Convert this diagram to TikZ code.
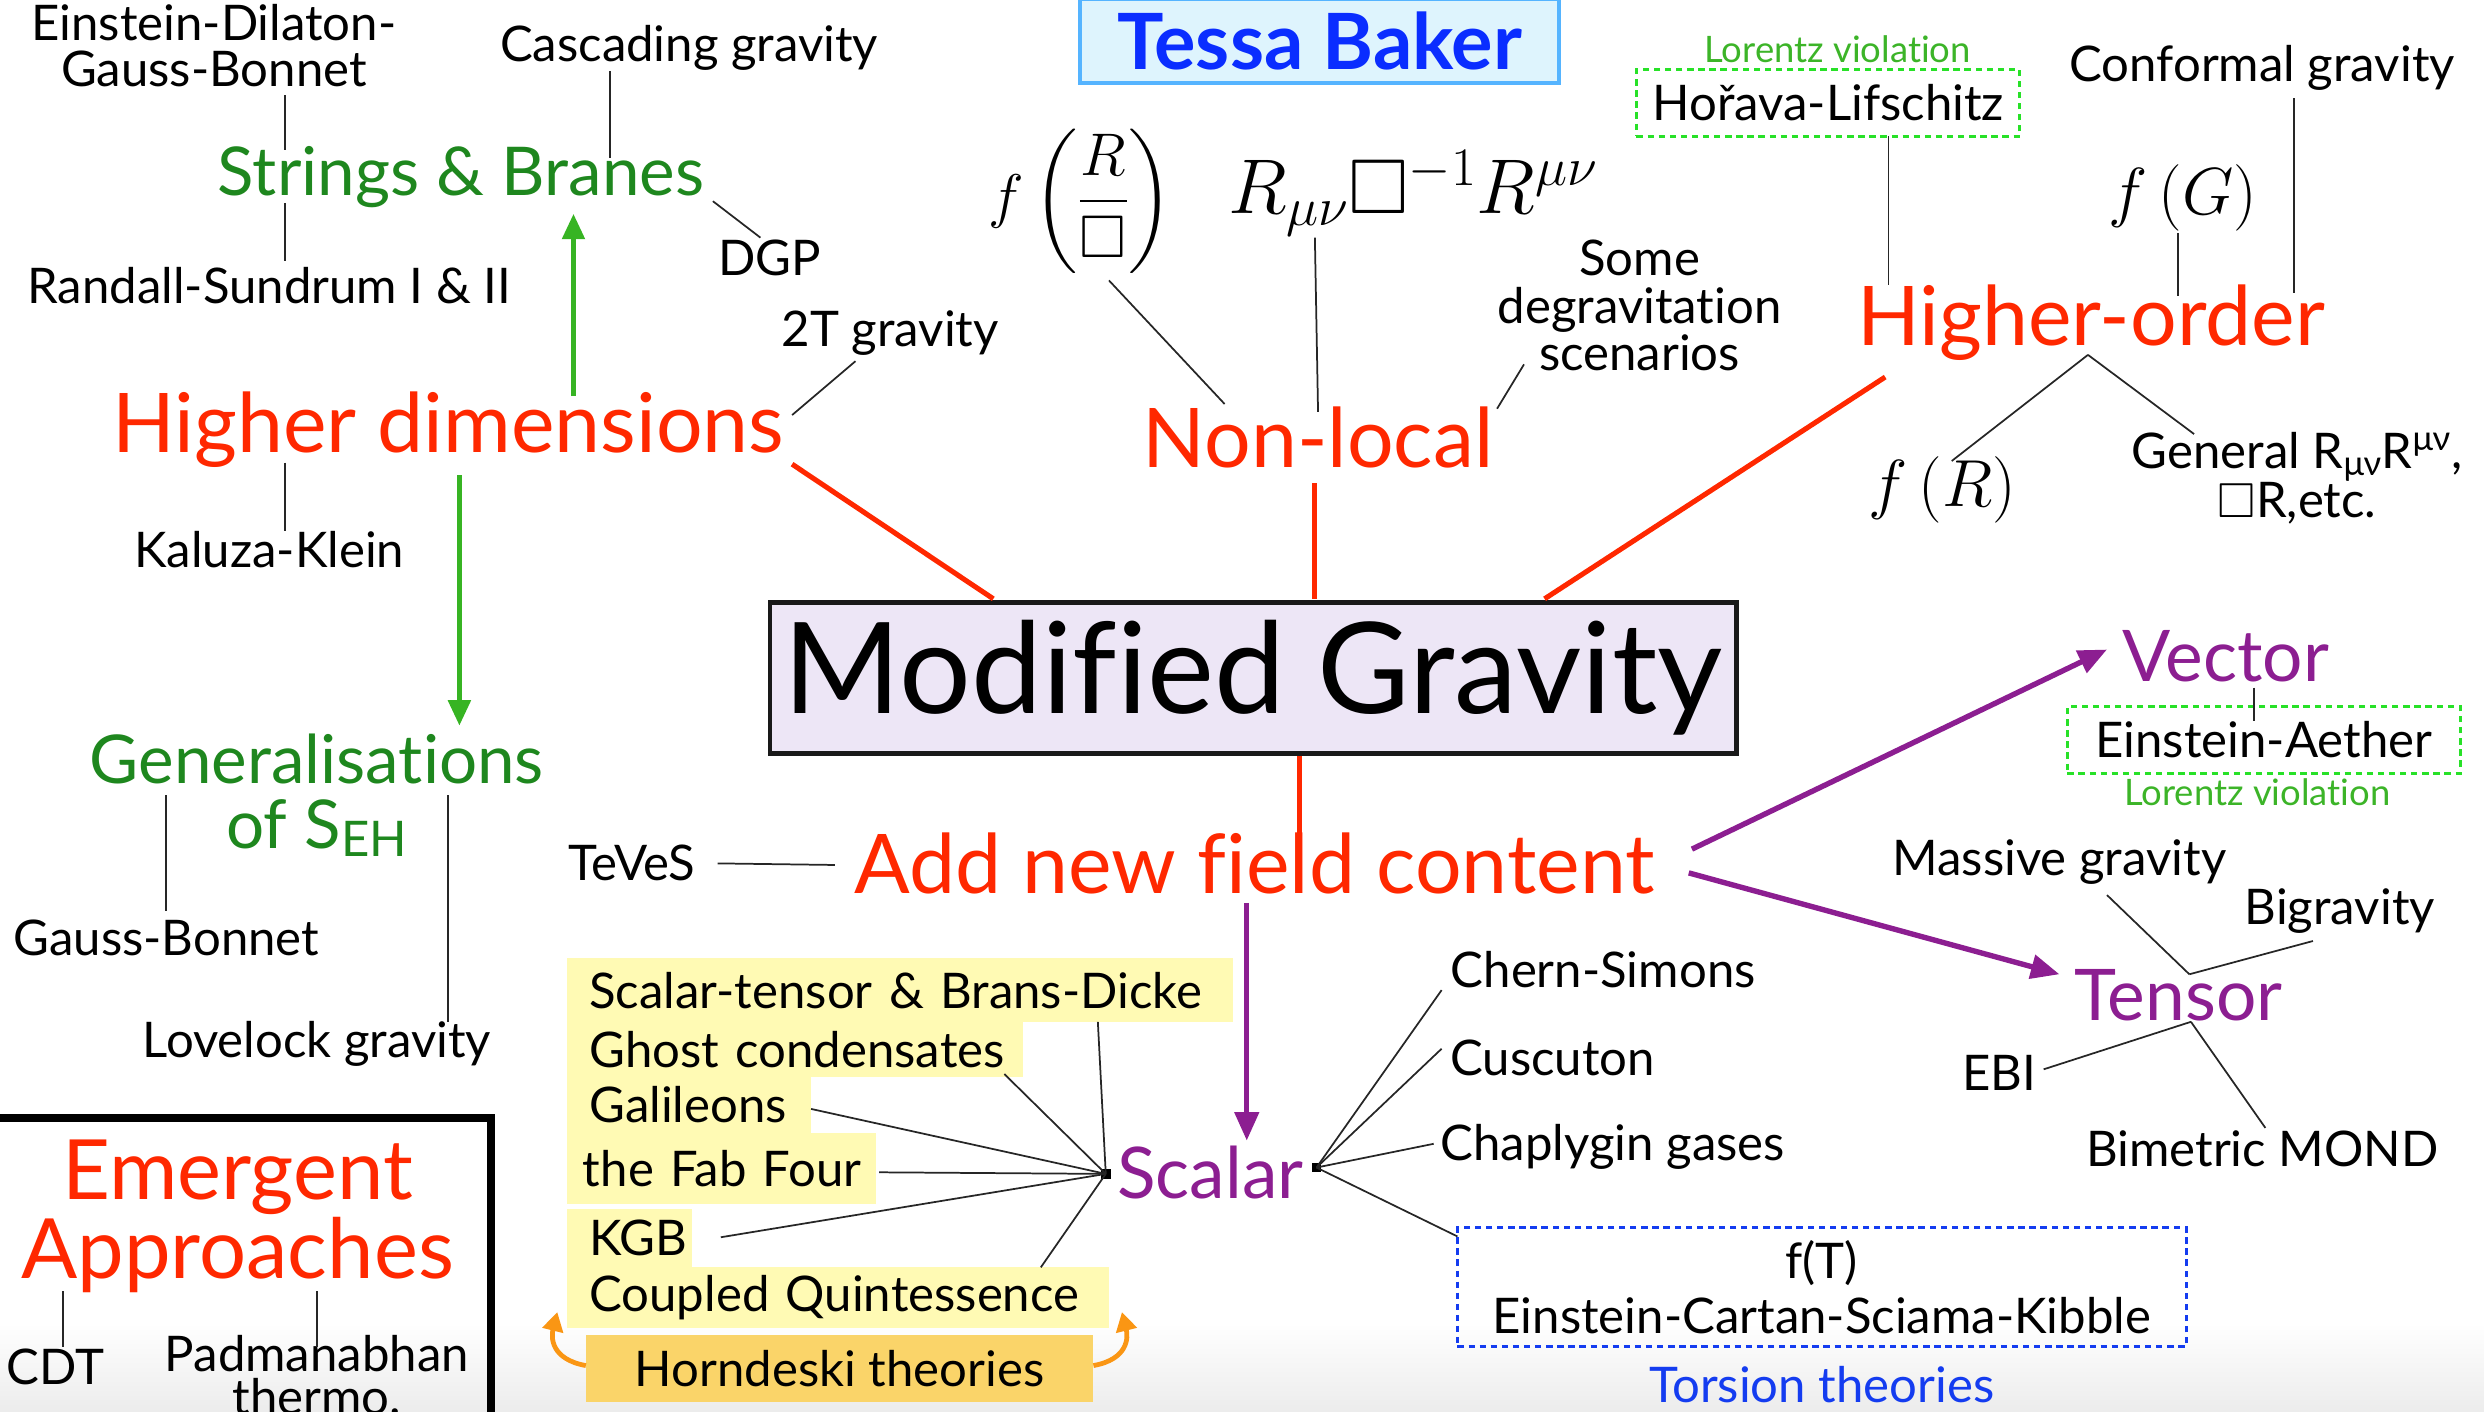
\RequirePackage{fix-cm}
\documentclass[tikz,border=0pt]{standalone}
\usepackage{amssymb}
\usepackage{fontspec}
\setmainfont{Lato}[Ligatures=NoCommon]
\usetikzlibrary{arrows.meta,calc}
\definecolor{mgred}{RGB}{255,40,0}
\definecolor{dgreen}{RGB}{30,135,30}
\definecolor{agreen}{RGB}{55,180,35}
\definecolor{lgreen}{RGB}{40,225,40}
\definecolor{lvgreen}{RGB}{60,180,40}
\definecolor{purp}{RGB}{140,30,145}
\definecolor{tblue}{RGB}{20,60,240}
\definecolor{nblue}{RGB}{10,45,255}
\definecolor{tfill}{RGB}{222,244,253}
\definecolor{tborder}{RGB}{85,180,255}
\definecolor{lav}{RGB}{237,230,246}
\definecolor{yel}{RGB}{255,250,180}
\definecolor{horn}{RGB}{250,212,105}
\definecolor{orarr}{RGB}{250,150,20}
\definecolor{bgray}{RGB}{236,236,236}
\begin{document}
\begin{tikzpicture}[x=1pt,y=-1pt,
  lbl/.style={font=\fontsize{31}{29}\selectfont, align=center, inner sep=0pt},
  redt/.style={font=\fontsize{52}{52}\selectfont, text=mgred, align=center, inner sep=0pt},
  grnt/.style={font=\fontsize{42.5}{41}\selectfont, text=dgreen, align=center, inner sep=0pt},
  purt/.style={font=\fontsize{45}{45}\selectfont, text=purp, inner sep=0pt},
  mth/.style={font=\fontsize{42}{46}\selectfont, inner sep=0pt},
  lvt/.style={font=\fontsize{23}{23}\selectfont, text=lvgreen, inner sep=0pt},
  ybox/.style={fill=yel, font=\fontsize{31}{31}\selectfont, inner xsep=14pt, inner ysep=0pt, align=left, anchor=center},
  dotbox/.style={draw=lgreen, line width=2pt, dash pattern=on 4pt off 3pt, font=\fontsize{31}{31}\selectfont, inner sep=0pt},
  conn/.style={draw=black!85, line width=1.1pt},
  redc/.style={draw=mgred, line width=3.2pt},
  garr/.style={draw=agreen, line width=3pt, -{Triangle[length=16pt,width=14pt]}},
  parr/.style={draw=purp, line width=3.4pt, -{Triangle[length=18pt,width=15pt]}},
  oarr/.style={draw=orarr, line width=3pt, -{Triangle[length=12pt,width=13pt]}},
  sq/.style={fill=black, minimum size=6pt, inner sep=0pt}]
\useasboundingbox (0,0) rectangle (1568,891);
\shade[top color=white, bottom color=bgray] (0,835) rectangle (1568,891);

% title
\node[draw=tborder, fill=tfill, line width=2.5pt, minimum width=302pt, minimum height=53pt,
  font=\fontsize{49}{49}\selectfont\bfseries, text=nblue] (title) at (833,26) {Tessa Baker};

% left top
\node[lbl] (edgb) at (135,29) {Einstein-Dilaton-\\Gauss-Bonnet};
\node[lbl] (cas) at (435,30) {Cascading gravity};
\node[grnt] (sb) at (291,112) {Strings \& Branes};
\node[lbl] (rs) at (170,180) {Randall-Sundrum I \& II};
\node[lbl] (dgp) at (486,163) {DGP};
\node[lbl] (twoT) at (562,210) {2T gravity};
\node[redt] (hd) at (283,271) {Higher dimensions};
\node[lbl] (kk) at (170,347) {Kaluza-Klein};
\node[grnt] (gen) at (200,502) {Generalisations\\of S{\fontsize{31}{31}\selectfont\raisebox{-5pt}{EH}}};
\node[lbl] (gb) at (105,592) {Gauss-Bonnet};
\node[lbl] (lov) at (200,659) {Lovelock gravity};

% emergent
\draw[line width=5pt] (-10,706) -- (310,706) -- (310,900);
\node[redt, font=\fontsize{52.5}{50}\selectfont] (em) at (150,768) {Emergent\\Approaches};
\node[lbl] (cdt) at (35,863) {CDT};
\node[lbl, font=\fontsize{31}{27}\selectfont] (pad) at (200,868) {Padmanabhan\\thermo.};

% non-local
\node[mth, font=\fontsize{38}{42}\selectfont] (fr) at (682,127) {$\displaystyle f\left(\frac{R}{\Box}\right)$};
\node[mth, font=\fontsize{49}{52}\selectfont] (nlR) at (892,122) {$R_{\mu\nu}\Box^{-1}R^{\mu\nu}$};
\node[lbl, font=\fontsize{31}{30}\selectfont] (deg) at (1035,193) {Some\\degravitation\\scenarios};
\node[redt] (nl) at (832,276) {Non-local};

% higher order
\node[lvt] (lv1) at (1160,31) {Lorentz violation};
\node[dotbox, minimum width=242pt, minimum height=42pt] (hl) at (1154,65) {Hořava-Lifschitz};
\node[lbl] (conf) at (1428,43) {Conformal gravity};
\node[mth] (fG) at (1378,125) {$f\left(G\right)$};
\node[redt] (ho) at (1320,204) {Higher-order};
\node[mth] (fR) at (1226,309) {$f\left(R\right)$};
\node[lbl, font=\fontsize{31}{31}\selectfont] (gen2) at (1450,302) {General R\textsubscript{μν}R\textsuperscript{μν},\\$\square$R,etc.};

% center
\node[draw=black!90, fill=lav, line width=3pt, minimum width=610pt, minimum height=95pt,
  font=\fontsize{80}{80}\selectfont] (mg) at (791,428) {Modified Gravity};
\node[redt] (anfc) at (792,545) {Add new field content};
\node[lbl] (teves) at (399,545) {TeVeS};

% vector / tensor
\node[purt] (vec) at (1405,414) {Vector};
\node[dotbox, minimum width=248pt, minimum height=42pt] (ea) at (1429,467) {Einstein-Aether};
\node[lvt] (lv2) at (1425,500) {Lorentz violation};
\node[purt] (ten) at (1375,628) {Tensor};
\node[lbl] (mas) at (1300,544) {Massive gravity};
\node[lbl] (big) at (1477,575) {Bigravity};
\node[lbl] (ebi) at (1262,677) {EBI};
\node[lbl] (bim) at (1428,725) {Bimetric MOND};

% scalar
\node[purt] (sca) at (764,740) {Scalar};
\node[sq] (sqL) at (698,741) {};
\node[sq] (sqR) at (831,737) {};
\node[ybox, minimum width=420pt, minimum height=40pt, text width=392pt] (st) at (568,625) {\mbox{Scalar-tensor \& Brans-Dicke}};
\node[ybox, minimum width=288pt, minimum height=35pt, text width=260pt] (gc) at (502,662.5) {\mbox{Ghost condensates}};
\node[ybox, minimum width=154pt, minimum height=35pt, text width=126pt] (gal) at (435,697.5) {\mbox{Galileons}};
\node[ybox, minimum width=195pt, minimum height=45pt, text width=175pt, inner xsep=10pt] (ff) at (455.5,737.5) {\mbox{the Fab Four}};
\node[ybox, minimum width=79pt, minimum height=37pt, text width=51pt] (kgb) at (397.5,781.5) {\mbox{KGB}};
\node[ybox, minimum width=342pt, minimum height=38pt, text width=314pt] (cq) at (529,819) {\mbox{Coupled Quintessence}};
\node[fill=horn, minimum width=320pt, minimum height=42pt, font=\fontsize{31}{31}\selectfont, inner sep=0pt] (hor) at (530,864) {Horndeski theories};

\node[lbl] (cs) at (1012,612) {Chern-Simons};
\node[lbl] (cus) at (980,668) {Cuscuton};
\node[lbl] (chap) at (1018,724) {Chaplygin gases};
\node[draw=tblue, line width=2pt, dash pattern=on 4pt off 3pt, minimum width=460pt, minimum height=75pt,
  font=\fontsize{31}{35}\selectfont, align=center, inner sep=0pt] (tor) at (1150,812.5) {f(T)\\Einstein-Cartan-Sciama-Kibble};
\node[lbl, text=tblue] (tt) at (1150,874) {Torsion theories};

% connectors: strings & higher dims
\draw[conn] ($(edgb.center)+(45,31)$) -- ($(sb.center)+(-111,-17)$);
\draw[conn] ($(sb.center)+(-111,16)$) -- ($(rs.center)+(10,-15)$);
\draw[conn] ($(cas.center)+(-50,15)$) -- ($(sb.center)+(94,-12)$);
\draw[conn] ($(sb.center)+(159,15)$) -- ($(dgp.center)+(-6,-13)$);
\draw[garr] ($(hd.center)+(79,-21)$) -- ($(sb.center)+(71,23)$);
\draw[conn] ($(hd.center)+(217,-9)$) -- ($(twoT.center)+(-22,18)$);
\draw[conn] ($(hd.center)+(-103,21)$) -- ($(kk.center)+(10,-12)$);
\draw[garr] ($(hd.center)+(7,29)$) -- ($(gen.center)+(90,-44)$);
\draw[conn] ($(gen.center)+(-95,0)$) -- ($(gb.center)+(0,-17)$);
\draw[conn] ($(gen.center)+(83,0)$) -- ($(lov.center)+(83,-14)$);
\draw[conn] ($(em.center)+(-110,47)$) -- ($(cdt.center)+(5,-13)$);
\draw[conn] ($(em.center)+(50,47)$) -- ($(pad.center)+(0,-18)$);

% red
\draw[redc] ($(hd.center)+(217,22)$) -- ($(mg.center)+(-164,-50)$);
\draw[redc] ($(nl.center)+(-2,29)$) -- ($(mg.center)+(39,-50)$);
\draw[redc] ($(ho.center)+(-130,34)$) -- ($(mg.center)+(184,-50)$);
\draw[redc] ($(mg.center)+(29,49)$) -- ($(anfc.center)+(28,-18)$);

% non-local
\draw[conn] ($(fr.center)+(18,50)$) -- ($(nl.center)+(-59,-21)$);
\draw[conn] ($(nlR.center)+(-62,28)$) -- ($(nl.center)+(0,-16)$);
\draw[conn] ($(deg.center)+(-73,37)$) -- ($(nl.center)+(113,-18)$);

% higher order
\draw[conn] ($(hl.center)+(38,21)$) -- ($(ho.center)+(-128,-24)$);
\draw[conn] ($(conf.center)+(20,19)$) -- ($(ho.center)+(128,-19)$);
\draw[conn] ($(fG.center)+(-3,22)$) -- ($(ho.center)+(55,-17)$);
\draw[conn] ($(ho.center)+(-2,20)$) -- ($(fR.center)+(6,-18)$);
\draw[conn] ($(ho.center)+(-2,20)$) -- ($(gen2.center)+(-65,-28)$);

% vector tensor
\draw[parr] ($(anfc.center)+(276,-9)$) -- ($(vec.center)+(-75,-4)$);
\draw[conn] ($(vec.center)+(18,20)$) -- ($(ea.center)+(-6,-12)$);
\draw[parr] ($(anfc.center)+(274,6)$) -- ($(ten.center)+(-75,-13)$);
\draw[conn] ($(mas.center)+(30,21)$) -- ($(ten.center)+(7,-13)$);
\draw[conn] ($(big.center)+(-17,19)$) -- ($(ten.center)+(7,-13)$);
\draw[conn] ($(ten.center)+(8,17)$) -- ($(ebi.center)+(28,-2)$);
\draw[conn] ($(ten.center)+(8,17)$) -- ($(bim.center)+(2,-13)$);

% scalar
\draw[parr] ($(anfc.center)+(-5,25)$) -- ($(sca.center)+(23,-20)$);
\draw[conn] ($(teves.center)+(54,0)$) -- ($(anfc.center)+(-265,1)$);
\draw[conn] ($(st.center)+(125,20)$) -- (sqL.center);
\draw[conn] ($(gc.center)+(132,15.5)$) -- (sqL.center);
\draw[conn] ($(gal.center)+(77,2.5)$) -- (sqL.center);
\draw[conn] ($(ff.center)+(99.5,2.5)$) -- (sqL.center);
\draw[conn] ($(kgb.center)+(57.5,-0.5)$) -- (sqL.center);
\draw[conn] ($(cq.center)+(128,-19)$) -- (sqL.center);
\draw[conn] (sqR.center) -- ($(cs.center)+(-102,13)$);
\draw[conn] (sqR.center) -- ($(cus.center)+(-70,-6)$);
\draw[conn] (sqR.center) -- ($(chap.center)+(-113,-2)$);
\draw[conn] (sqR.center) -- ($(tor.center)+(-230,-32)$);

% horndeski arrows
\draw[oarr] ($(hor.west)+(0,-2)$) .. controls +(-22,-4) and +(-4,16) .. ($(cq.south west)+(-6,-10)$);
\draw[oarr] ($(hor.east)+(0,-2)$) .. controls +(22,-4) and +(4,16) .. ($(cq.south east)+(8,-10)$);
\end{tikzpicture}
\end{document}
